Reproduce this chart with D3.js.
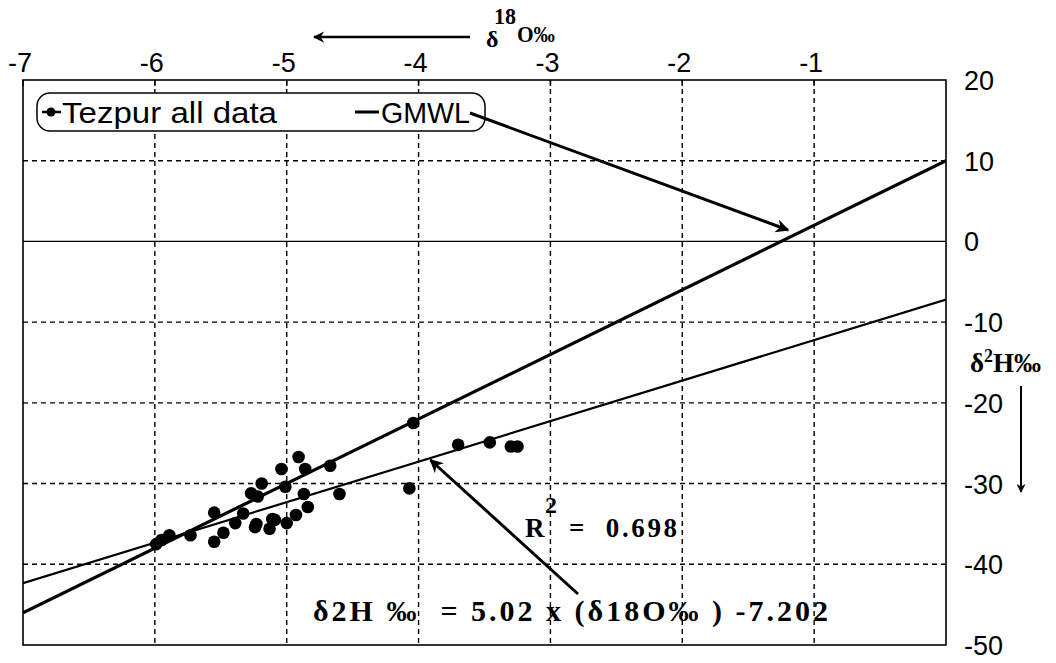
<!DOCTYPE html>
<meta charset="utf-8">
<style>
body { margin: 0; background: #fff; }
text { fill: #000; }
.tick-label { font-family: Arial, "Liberation Sans", sans-serif; font-size: 27px; }
.legend-label { font-family: Arial, "Liberation Sans", sans-serif; font-size: 30px; }
.serif { font-family: "Times New Roman", "Liberation Serif", serif; font-weight: bold; }
.grid { stroke: #000; stroke-width: 1.4px; stroke-dasharray: 5,4; fill: none; }
</style>
<body>
<script src="https://cdn.jsdelivr.net/npm/d3@7"></script>
<script>

var width = 1056,
    height = 663,
    plot = {left: 23, top: 80, right: 946, bottom: 645};

// delta 18O (x) and delta 2H (y) for the Tezpur samples
var d18O = [-4.04, -3.70, -3.46, -3.30, -3.25, -4.07, -4.60, -4.67, -4.91, -4.86,
            -5.04, -5.01, -5.19, -5.22, -4.87, -4.84, -4.93, -5.00, -5.11, -5.09,
            -5.13, -5.23, -5.24, -5.33, -5.39, -5.55, -5.48, -5.55, -5.73, -5.89,
            -5.95, -5.99, -5.27];
var d2H  = [-22.5, -25.2, -24.9, -25.4, -25.4, -30.6, -31.3, -27.8, -26.7, -28.2,
            -28.2, -30.4, -30.0, -31.6, -31.3, -32.9, -33.9, -34.9, -34.4, -34.5,
            -35.6, -35.0, -35.4, -33.7, -34.9, -33.6, -36.1, -37.2, -36.4, -36.4,
            -37.0, -37.5, -31.2];

var xTicks = [-7, -6, -5, -4, -3, -2, -1];
var yTicks = [20, 10, 0, -10, -20, -30, -40, -50];

// GMWL: d2H = 8 d18O + 10 ; local fit: d2H = 5.02 d18O - 7.202
var gmwl = {slope: 8, intercept: 10};
var fit = {slope: 5.02, intercept: -7.202};

var x = d3.scaleLinear().domain([-7, 0]).range([plot.left, plot.right]);
var y = d3.scaleLinear().domain([20, -50]).range([plot.top, plot.bottom]);

var svg = d3.select("body").append("svg")
    .attr("width", width)
    .attr("height", height);

var defs = svg.append("defs");
defs.append("marker")
    .attr("id", "head")
    .attr("viewBox", "0 0 10 10")
    .attr("refX", 9).attr("refY", 5)
    .attr("markerWidth", 6).attr("markerHeight", 4.5)
    .attr("markerUnits", "strokeWidth")
    .attr("orient", "auto")
  .append("path")
    .attr("d", "M0,0L10,5L0,10L3,5Z")
    .attr("fill", "#000");

var g = svg.append("g");

// grid
g.selectAll(".vgrid")
    .data(xTicks.slice(1))
  .enter().append("line")
    .attr("class", "grid")
    .attr("x1", x).attr("x2", x)
    .attr("y1", plot.top).attr("y2", plot.bottom);

g.selectAll(".hgrid")
    .data(yTicks.filter(function(d) { return d < 20 && d > -50 && d !== 0; }))
  .enter().append("line")
    .attr("class", "grid")
    .attr("x1", plot.left).attr("x2", plot.right)
    .attr("y1", y).attr("y2", y);

g.append("line")
    .attr("x1", plot.left).attr("x2", plot.right)
    .attr("y1", y(0)).attr("y2", y(0))
    .attr("stroke", "#000").attr("stroke-width", 1.3);

// frame
g.append("rect")
    .attr("x", plot.left).attr("y", plot.top)
    .attr("width", plot.right - plot.left)
    .attr("height", plot.bottom - plot.top)
    .attr("fill", "none").attr("stroke", "#000").attr("stroke-width", 1.6);

// top ticks
g.selectAll(".xtick")
    .data(xTicks)
  .enter().append("line")
    .attr("x1", x).attr("x2", x)
    .attr("y1", plot.top).attr("y2", plot.top + 6)
    .attr("stroke", "#000").attr("stroke-width", 1.4);

// tick labels
svg.selectAll(".xl")
    .data(xTicks)
  .enter().append("text")
    .attr("class", "tick-label")
    .attr("x", function(d) { return x(d) - 3; })
    .attr("y", 72)
    .attr("text-anchor", "middle")
    .text(function(d) { return d; });

svg.selectAll(".yl")
    .data(yTicks)
  .enter().append("text")
    .attr("class", "tick-label")
    .attr("x", 964)
    .attr("y", function(d) { return y(d) + 10; })
    .text(function(d) { return d; });

// lines, clipped to the frame
defs.append("clipPath").attr("id", "clip")
  .append("rect")
    .attr("x", plot.left).attr("y", plot.top)
    .attr("width", plot.right - plot.left)
    .attr("height", plot.bottom - plot.top);

var lines = g.append("g").attr("clip-path", "url(#clip)");

function lineOf(p) {
  return [[-7, p.slope * -7 + p.intercept], [0, p.intercept]];
}
var linePath = d3.line()
    .x(function(d) { return x(d[0]); })
    .y(function(d) { return y(d[1]); });

lines.append("path")
    .attr("d", linePath(lineOf(gmwl)))
    .attr("fill", "none").attr("stroke", "#000").attr("stroke-width", 3.2);

lines.append("path")
    .attr("d", linePath(lineOf(fit)))
    .attr("fill", "none").attr("stroke", "#000").attr("stroke-width", 2.2);

// points
lines.selectAll("circle")
    .data(d3.range(d18O.length))
  .enter().append("circle")
    .attr("cx", function(i) { return x(d18O[i]); })
    .attr("cy", function(i) { return y(d2H[i]); })
    .attr("r", 6.3)
    .attr("fill", "#000");

// legend
var legend = svg.append("g");
legend.append("rect")
    .attr("x", 37).attr("y", 93)
    .attr("width", 448).attr("height", 38)
    .attr("rx", 13).attr("ry", 13)
    .attr("fill", "#fff").attr("stroke", "#000").attr("stroke-width", 1.5);
legend.append("line")
    .attr("x1", 42).attr("x2", 61).attr("y1", 112).attr("y2", 112)
    .attr("stroke", "#000").attr("stroke-width", 2.5);
legend.append("circle")
    .attr("cx", 51).attr("cy", 112).attr("r", 4.5).attr("fill", "#000");
legend.append("text")
    .attr("class", "legend-label")
    .attr("x", 62).attr("y", 123)
    .attr("textLength", 215).attr("lengthAdjust", "spacingAndGlyphs")
    .text("Tezpur all data");
legend.append("line")
    .attr("x1", 355).attr("x2", 379).attr("y1", 112).attr("y2", 112)
    .attr("stroke", "#000").attr("stroke-width", 3);
legend.append("text")
    .attr("class", "legend-label")
    .attr("x", 381).attr("y", 123)
    .attr("textLength", 89).attr("lengthAdjust", "spacingAndGlyphs")
    .text("GMWL");

// callout arrows
svg.append("line")
    .attr("x1", 470).attr("y1", 113)
    .attr("x2", 788).attr("y2", 230)
    .attr("stroke", "#000").attr("stroke-width", 3)
    .attr("marker-end", "url(#head)");

svg.append("line")
    .attr("x1", 578).attr("y1", 594)
    .attr("x2", x(-3.91)).attr("y2", y(fit.slope * -3.91 + fit.intercept) + 2)
    .attr("stroke", "#000").attr("stroke-width", 3)
    .attr("marker-end", "url(#head)");

// annotations
svg.append("text")
    .attr("class", "serif")
    .attr("x", 525).attr("y", 537)
    .style("font-size", "27px")
    .text("R");
svg.append("text")
    .attr("class", "serif")
    .attr("x", 545).attr("y", 513)
    .style("font-size", "24px")
    .text("2");
svg.append("text")
    .attr("class", "serif")
    .attr("x", 569).attr("y", 537)
    .style("font-size", "27px")
    .attr("textLength", 108).attr("lengthAdjust", "spacing")
    .attr("xml:space", "preserve")
    .text("=  0.698");

svg.append("text")
    .attr("class", "serif")
    .attr("x", 313).attr("y", 621)
    .style("font-size", "30px")
    .attr("textLength", 515).attr("lengthAdjust", "spacing")
    .attr("xml:space", "preserve")
    .text("δ2H ‰  = 5.02 x (δ18O‰ ) -7.202");

// axis titles
svg.append("line")
    .attr("x1", 470).attr("y1", 37).attr("x2", 314).attr("y2", 37)
    .attr("stroke", "#000").attr("stroke-width", 2.5)
    .attr("marker-end", "url(#head)");

svg.append("text").attr("class", "serif").attr("x", 486).attr("y", 47)
    .style("font-size", "24px").text("δ");
svg.append("text").attr("class", "serif").attr("x", 494).attr("y", 24)
    .style("font-size", "23px")
    .attr("textLength", 22).attr("lengthAdjust", "spacingAndGlyphs")
    .text("18");
svg.append("text").attr("class", "serif").attr("x", 517).attr("y", 42)
    .style("font-size", "24px")
    .attr("textLength", 38).attr("lengthAdjust", "spacingAndGlyphs")
    .text("O‰");

var yt = svg.append("text").attr("class", "serif").attr("x", 970).attr("y", 372)
    .style("font-size", "27px");
yt.append("tspan").text("δ");
yt.append("tspan").attr("dy", -10).style("font-size", "18px").text("2");
yt.append("tspan").attr("dy", 10).text("H‰");

svg.append("line")
    .attr("x1", 1021).attr("y1", 386).attr("x2", 1021).attr("y2", 492)
    .attr("stroke", "#000").attr("stroke-width", 2)
    .attr("marker-end", "url(#head)");

</script>
